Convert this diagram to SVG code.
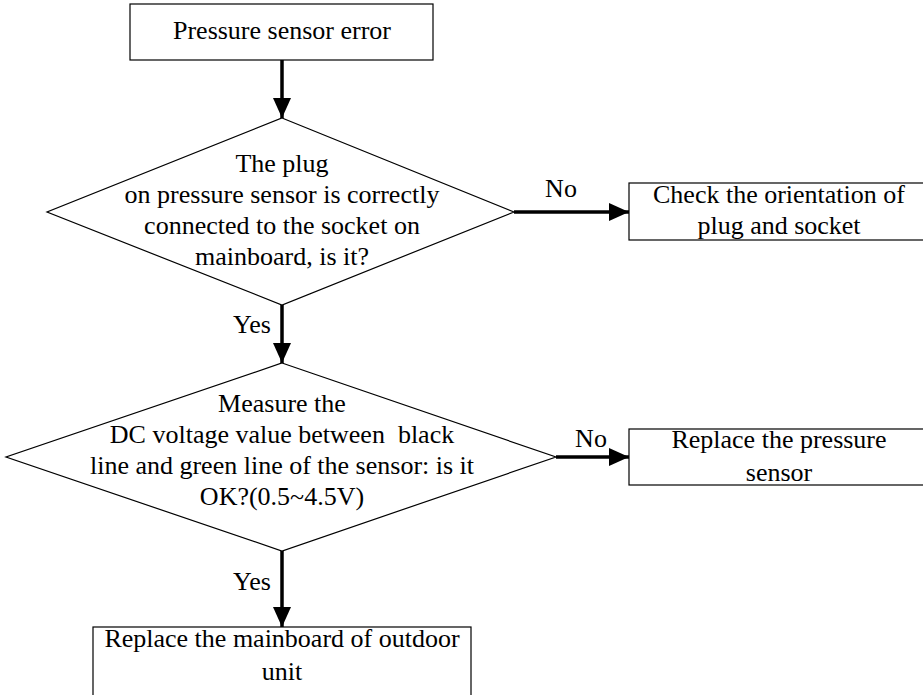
<svg xmlns="http://www.w3.org/2000/svg" width="923" height="695" viewBox="0 0 923 695">
<style>
.shape{fill:#fff;stroke:#000;stroke-width:1.2}
.t{font-family:"Liberation Serif","Times New Roman",serif;font-size:26px;fill:#000;text-anchor:middle}
.c{fill:none;stroke:#000;stroke-width:3.5}
</style>
<defs>
<marker id="ah" markerUnits="userSpaceOnUse" markerWidth="20" markerHeight="20" refX="20" refY="9" orient="auto" viewBox="0 0 20 18">
<path d="M0,0 L20,9 L0,18 Z" fill="#000"/>
</marker>
</defs>
<rect width="923" height="695" fill="#fff"/>
<g id="start">
<rect class="shape" x="130" y="4" width="303" height="56"/>
<text class="t" x="282" y="39">Pressure sensor error</text>
</g>
<g id="decision1">
<polygon class="shape" points="282,118 514,212 282,305 47,212"/>
<text class="t" x="282" y="172">The plug</text>
<text class="t" x="282" y="203">on pressure sensor is correctly</text>
<text class="t" x="282" y="234">connected to the socket on</text>
<text class="t" x="282" y="265">mainboard, is it?</text>
</g>
<g id="check">
<rect class="shape" x="629" y="183" width="300" height="57"/>
<text class="t" x="779" y="203">Check the orientation of</text>
<text class="t" x="779" y="234">plug and socket</text>
</g>
<g id="decision2">
<polygon class="shape" points="282,363 556,457 282,551 6,457"/>
<text class="t" x="282" y="412">Measure the</text>
<text class="t" x="282" y="443" xml:space="preserve">DC voltage value between  black</text>
<text class="t" x="282" y="474">line and green line of the sensor: is it</text>
<text class="t" x="282" y="505">OK?(0.5~4.5V)</text>
</g>
<g id="replaceSensor">
<rect class="shape" x="629" y="429" width="300" height="56"/>
<text class="t" x="779" y="448">Replace the pressure</text>
<text class="t" x="779" y="481">sensor</text>
</g>
<g id="replaceBoard">
<rect class="shape" x="93" y="627" width="378" height="80"/>
<text class="t" x="282" y="647">Replace the mainboard of outdoor</text>
<text class="t" x="282" y="680">unit</text>
</g>
<g id="connectors">
<line class="c" x1="282" y1="60" x2="282" y2="118" marker-end="url(#ah)"/>
<line class="c" x1="514" y1="212" x2="629" y2="212" marker-end="url(#ah)"/>
<text class="t" x="561" y="197">No</text>
<line class="c" x1="282" y1="305" x2="282" y2="363" marker-end="url(#ah)"/>
<text class="t" x="252" y="333">Yes</text>
<line class="c" x1="556" y1="457" x2="629" y2="457" marker-end="url(#ah)"/>
<text class="t" x="591" y="447">No</text>
<line class="c" x1="282" y1="551" x2="282" y2="627" marker-end="url(#ah)"/>
<text class="t" x="252" y="590">Yes</text>
</g>
</svg>
